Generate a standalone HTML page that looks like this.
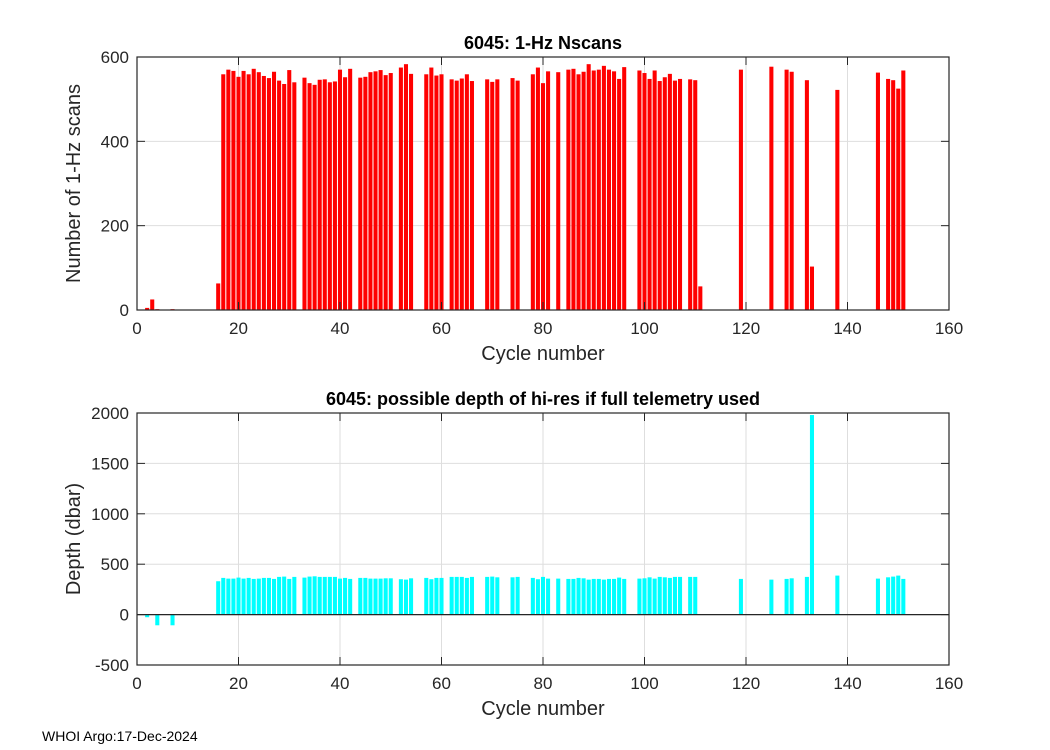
<!DOCTYPE html>
<html><head><meta charset="utf-8"><style>
body{margin:0;background:#fff;}
svg{display:block;font-family:"Liberation Sans",sans-serif;}
</style></head><body>
<svg id="c" width="1050" height="750"></svg>
<script>
const cycles1=[2,3,4,7,16,17,18,19,20,21,22,23,24,25,26,27,28,29,30,31,33,34,35,36,37,38,39,40,41,42,44,45,46,47,48,49,50,52,53,54,57,58,59,60,62,63,64,65,66,69,70,71,74,75,78,79,80,81,83,85,86,87,88,89,90,91,92,93,94,95,96,99,100,101,102,103,104,105,106,107,109,110,111,119,125,128,129,132,133,138,146,148,149,150,151];
const nscans=[5,25,2,2,63,559,570,567,553,567,559,572,564,555,550,565,544,536,569,540,551,538,534,546,547,540,542,570,552,572,551,553,564,566,569,557,562,575,583,560,559,575,556,559,547,544,549,559,543,547,541,547,550,544,559,575,538,566,564,570,572,559,565,583,568,570,579,570,566,548,576,568,562,548,568,543,552,560,544,548,547,545,56,570,577,570,565,545,103,522,563,548,545,525,568];
const cycles2=[2,4,7,16,17,18,19,20,21,22,23,24,25,26,27,28,29,30,31,33,34,35,36,37,38,39,40,41,42,44,45,46,47,48,49,50,52,53,54,57,58,59,60,62,63,64,65,66,69,70,71,74,75,78,79,80,81,83,85,86,87,88,89,90,91,92,93,94,95,96,99,100,101,102,103,104,105,106,107,109,110,119,125,128,129,132,133,138,146,148,149,150,151];
const depth=[-26,-106,-106,331,364,357,357,367,357,364,354,357,364,364,354,374,377,354,374,367,377,380,374,374,374,374,357,364,354,364,364,357,357,357,360,360,351,347,360,364,351,364,364,374,374,374,364,374,374,377,370,370,374,364,351,374,357,357,354,354,364,360,347,354,354,347,354,354,367,354,357,360,370,357,374,370,364,374,374,374,374,354,347,354,360,374,1980,387,357,370,377,387,354];
const xTicks=[0,20,40,60,80,100,120,140,160];
const yTicks1=[0,200,400,600];
const yTicks2=[-500,0,500,1000,1500,2000];
const svg=document.getElementById('c');
const NS='http://www.w3.org/2000/svg';
function el(t,a,txt){const e=document.createElementNS(NS,t);for(const k in a)e.setAttribute(k,a[k]);if(txt!==undefined)e.textContent=txt;svg.appendChild(e);return e;}
const L=137,R=949;
const xs=v=>L+(v-0)/(160-0)*(R-L);
function panel(top,bot,ymin,ymax,yt,cyc,vals,color,title,ylab,pfx){
  const ys=v=>bot-(v-ymin)/(ymax-ymin)*(bot-top);
  xTicks.forEach(t=>{const g=el('line',{x1:xs(t),x2:xs(t),y1:top,y2:bot,stroke:'#dedede','stroke-width':1});
  });
  yt.forEach(t=>{const g=el('line',{x1:L,x2:R,y1:ys(t),y2:ys(t),stroke:'#dedede','stroke-width':1});
  });
  const base=ys(Math.max(ymin,0));
  cyc.forEach((c,i)=>{const v=vals[i];const y=ys(v);const w=0.8*(R-L)/160;
    const b=el('rect',{x:xs(c)-w/2,y:Math.min(y,base),width:w,height:Math.abs(base-y),fill:color});
    });
  if(ymin<0){const z=el('line',{x1:L,x2:R,y1:ys(0),y2:ys(0),stroke:'#262626','stroke-width':1.3});
    }
  const box=el('rect',{x:L,y:top,width:R-L,height:bot-top,fill:'none',stroke:'#262626','stroke-width':1.2});
  
  xTicks.forEach(t=>{el('line',{x1:xs(t),x2:xs(t),y1:bot,y2:bot-8,stroke:'#262626'});el('line',{x1:xs(t),x2:xs(t),y1:top,y2:top+8,stroke:'#262626'});
    const tx=el('text',{x:xs(t),y:bot+24,'text-anchor':'middle','font-size':17,fill:'#262626'},t);
    });
  yt.forEach(t=>{el('line',{x1:L,x2:L+8,y1:ys(t),y2:ys(t),stroke:'#262626'});el('line',{x1:R,x2:R-8,y1:ys(t),y2:ys(t),stroke:'#262626'});
    const tx=el('text',{x:L-8,y:ys(t)+6,'text-anchor':'end','font-size':17,fill:'#262626'},t);
    });
  const ti=el('text',{x:(L+R)/2,y:top-8,'text-anchor':'middle','font-size':18,'font-weight':'bold',fill:'#000'},title);
  
  const xl=el('text',{x:(L+R)/2,y:bot+50,'text-anchor':'middle','font-size':20,fill:'#262626'},'Cycle number');
  
  const yl=el('text',{x:0,y:0,'text-anchor':'middle','font-size':20,fill:'#262626',transform:`translate(80,${(top+bot)/2}) rotate(-90)`},ylab);
  
}
panel(57,310,0,600,yTicks1,cycles1,nscans,'#ff0000','6045: 1-Hz Nscans','Number of 1-Hz scans','nscans');
panel(413,665,-500,2000,yTicks2,cycles2,depth,'#00ffff','6045: possible depth of hi-res if full telemetry used','Depth (dbar)','depth');
const f=el('text',{x:42,y:741,'font-size':14,fill:'#000'},'WHOI Argo:17-Dec-2024');


</script>
</body></html>
